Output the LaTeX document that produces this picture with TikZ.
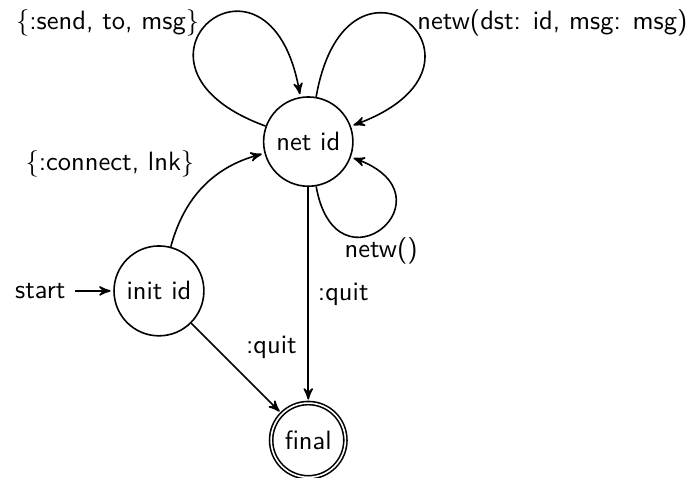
\documentclass[tikz,border=0pt]{standalone}
\usetikzlibrary{arrows}
\begin{document}
\begin{tikzpicture}[->,>=stealth',shorten >=1pt,auto,semithick,
  font=\sffamily,
  statenode/.style={circle,draw,inner sep=.3333em},
  finalnode/.style={statenode,double,double distance=0.6pt}]
\useasboundingbox (-59.95pt,-70.5pt) rectangle (202.9pt,109.7pt);

% states
\node[statenode] (init) at (0pt,0pt) {init id};
\node[statenode] (net) at (56.3pt,56.3pt) {net id};
\node[finalnode] (final) at (56.3pt,-56.3pt) {final};
\node[anchor=east] (start) at (-31.6pt,0pt) {start};

% transitions
\draw (start) -- (init);
\draw (init) to[bend left] node (lconnect) {$\{$:connect, lnk$\}$} (net);
\draw (net) to[out=160,in=100,looseness=10]
  node[anchor=east] (lsend) {$\{$:send, to, msg$\}$} (net);
\draw (net) to[out=80,in=20,looseness=10]
  node[anchor=west] (lnetw) {netw(dst: id, msg: msg)} (net);
\draw (net) to[out=280,in=340,looseness=6.4]
  node[anchor=north] (lempty) {netw()} (net);
\draw (net) -- node (lquitnet) {:quit} (final);
\draw (init) -- node (lquitinit) {:quit} (final);
\end{tikzpicture}
\end{document}
